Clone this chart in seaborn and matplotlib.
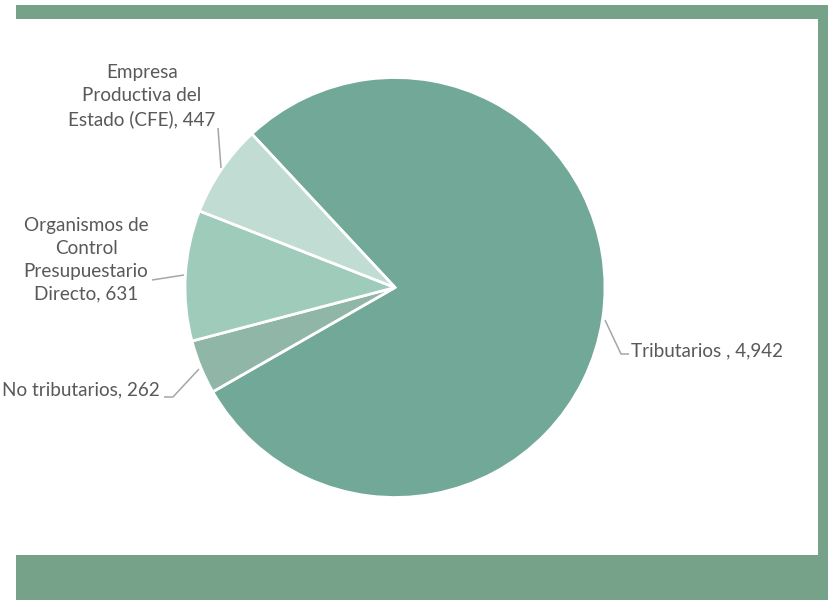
import numpy as np
import matplotlib
matplotlib.use("Agg")
from matplotlib import pyplot as plt
from matplotlib.patches import Rectangle
import seaborn as sns

# Data
categories = ['Tributarios', 'No tributarios', 'Organismos de Control Presupuestario Directo',
              'Empresa Productiva del Estado (CFE)']
values = [4942, 262, 631, 447]
label_texts = ['Tributarios , 4,942', 'No tributarios, 262',
               'Organismos de\nControl\nPresupuestario\nDirecto, 631',
               'Empresa\nProductiva del\nEstado (CFE), 447']
colors = ['#72a897', '#8fb6a6', '#9ecbba', '#c1ddd3']

sns.set_theme(style='white')
plt.rcParams['font.family'] = ['Lato', 'DejaVu Sans']

W, H = 831, 600
fig = plt.figure(figsize=(W / 100, H / 100), dpi=100)
ax = fig.add_axes([0, 0, 1, 1])

def py(y):
  # pixel row -> data y
  return H - y

# green frame
frame_col = '#76a28a'
ax.add_patch(Rectangle((16, py(19)), 812, 14, color=frame_col, lw=0))
ax.add_patch(Rectangle((818, 0), 10, py(5), color=frame_col, lw=0))
ax.add_patch(Rectangle((16, 0), 812, py(555), color=frame_col, lw=0))

# pie
cx, cy, r = 395, py(287.5), 210
wedges, _ = ax.pie(values, colors=colors, startangle=133, counterclock=False,
                   center=(cx, cy), radius=r, frame=True,
                   wedgeprops=dict(edgecolor='white', linewidth=2))
ax.set_xlim(0, W)
ax.set_ylim(0, H)
ax.set_aspect('equal')
ax.axis('off')

# leader lines and labels (pixel positions)
line_col = '#a6a6a6'
txt_col = '#595959'
leaders = [
  [(605, 320), (621, 354), (629, 354)],
  [(199, 369), (173, 397), (164, 397)],
  [(184, 275), (152, 280)],
  [(221, 168), (218, 128)],
]
for pts in leaders:
  xs = [p[0] for p in pts]
  ys = [py(p[1]) for p in pts]
  ax.plot(xs, ys, color=line_col, lw=1.1, solid_capstyle='butt')

label_pos = [(631, 351, 'left'), (160, 390, 'right'), (86, 260, 'center'), (142, 96, 'center')]
for txt, (x, y, ha) in zip(label_texts, label_pos):
  ax.text(x, py(y), txt, ha=ha, va='center', fontsize=13.6, color=txt_col,
          multialignment='center', linespacing=1.42)

fig.savefig('out.png', dpi=100, facecolor='white')
